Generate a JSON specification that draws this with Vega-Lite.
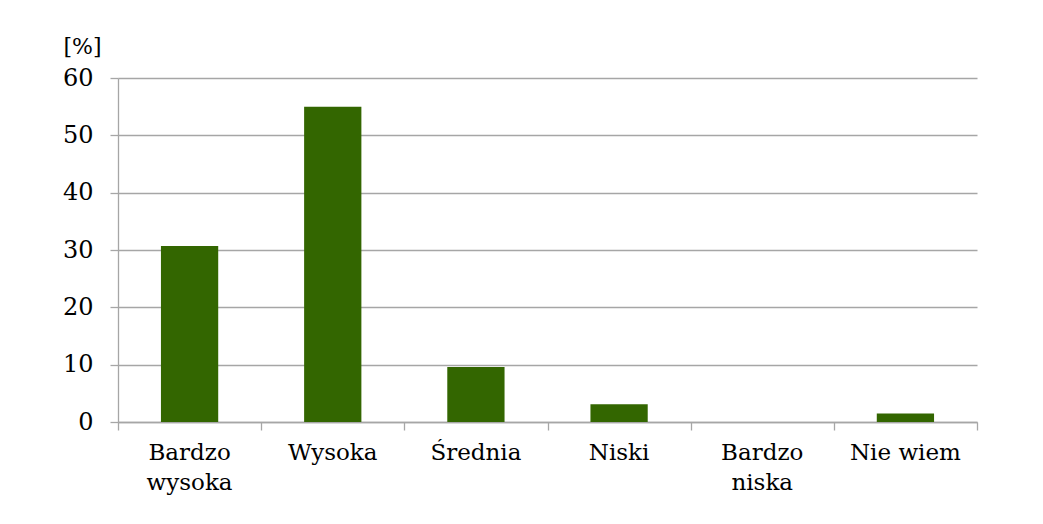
{
  "$schema": "https://vega.github.io/schema/vega-lite/v6.json",
  "width": 859,
  "height": 344,
  "autosize": "none",
  "padding": {"left": 118, "top": 78, "right": 66, "bottom": 102},
  "background": "white",
  "config": {
    "view": {"stroke": null}
  },
  "data": {"values": [
    {"cat": "Bardzo wysoka", "pct": 30.7},
    {"cat": "Wysoka", "pct": 55.0},
    {"cat": "Średnia", "pct": 9.6},
    {"cat": "Niski", "pct": 3.1},
    {"cat": "Bardzo niska", "pct": 0},
    {"cat": "Nie wiem", "pct": 1.5}
  ]},
  "layer": [
    {
      "mark": {"type": "bar", "color": "#336600", "width": {"band": 0.4}},
      "encoding": {
        "x": {
          "field": "cat", "type": "nominal", "sort": null,
          "scale": {"paddingInner": 0, "paddingOuter": 0},
          "axis": {
            "title": null, "ticks": false, "domain": false, "labelAngle": 0,
            "labelFont": "DejaVu Serif", "labelColor": "#000000",
            "labelFontSize": 23, "labelPadding": 19, "labelLineHeight": 30,
            "labelLimit": 300,
            "labelExpr": "indexof(datum.label,'Bardzo')==0 ? split(datum.label,' ') : datum.label"
          }
        },
        "y": {
          "field": "pct", "type": "quantitative",
          "scale": {"domain": [0, 60], "nice": false},
          "axis": {
            "values": [0, 10, 20, 30, 40, 50, 60],
            "grid": true, "gridColor": "#a6a6a6", "gridWidth": 1.3,
            "domain": true, "domainColor": "#a6a6a6", "domainWidth": 1.3,
            "tickColor": "#a6a6a6", "tickSize": 8, "tickWidth": 1.3,
            "labelFont": "DejaVu Serif", "labelColor": "#000000",
            "labelFontSize": 24, "labelPadding": 17,
            "title": "[%]", "titleAngle": 0, "titleFontSize": 22, "titleFontWeight": "normal",
            "titleFont": "DejaVu Serif", "titleColor": "#000000",
            "titleAlign": "center", "titleBaseline": "alphabetic", "titleX": -36, "titleY": -25
          }
        }
      }
    },
    {
      "mark": {"type": "rule", "opacity": 0},
      "encoding": {
        "x": {
          "datum": 0, "type": "quantitative",
          "scale": {"domain": [0, 6], "nice": false, "zero": false},
          "axis": {
            "orient": "bottom", "values": [0, 1, 2, 3, 4, 5, 6], "labels": false, "title": null,
            "grid": false, "ticks": true, "tickSize": 8, "tickColor": "#a6a6a6", "tickWidth": 1.3,
            "domain": true, "domainColor": "#a6a6a6", "domainWidth": 1.3
          }
        }
      }
    }
  ],
  "resolve": {"scale": {"x": "independent"}}
}
